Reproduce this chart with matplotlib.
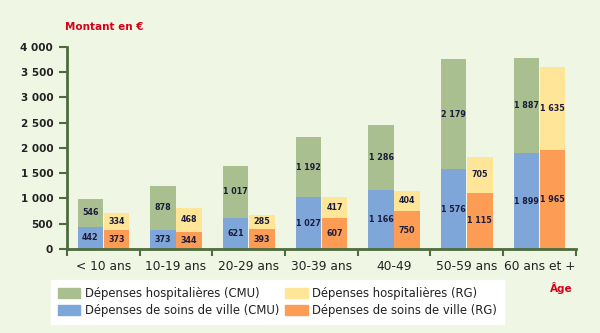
import numpy as np
from matplotlib import pyplot as plt
from matplotlib.patches import Patch

# donnees
ages = ['< 10 ans', '10-19 ans', '20-29 ans', '30-39 ans', '40-49', '50-59 ans', '60 ans et +']
cmu_ville = [442, 373, 621, 1027, 1166, 1576, 1899]
cmu_hosp = [546, 878, 1017, 1192, 1286, 2179, 1887]
rg_ville = [373, 344, 393, 607, 750, 1115, 1965]
rg_hosp = [334, 468, 285, 417, 404, 705, 1635]
yticks = [0, 500, 1000, 1500, 2000, 2500, 3000, 3500, 4000]

c_green = '#a9bf90'
c_blue = '#7ea6d8'
c_yellow = '#fee597'
c_orange = '#fd9d55'
bg = '#eff7e4'
axc = '#4d6b3c'
red = '#d7001a'
txt = '#222222'


def fmt(v):
    return '{:,}'.format(v).replace(',', ' ')


fig = plt.figure(figsize=(6, 3.33), dpi=100)
fig.patch.set_facecolor(bg)
ax = fig.add_axes([0.1117, 0.2523, 0.848, 0.6066])
ax.set_facecolor(bg)

x = np.arange(len(ages))
w = 0.35
off = 0.18

ax.bar(x - off, cmu_ville, w, color=c_blue)
ax.bar(x - off, cmu_hosp, w, bottom=cmu_ville, color=c_green)
ax.bar(x + off, rg_ville, w, color=c_orange)
ax.bar(x + off, rg_hosp, w, bottom=rg_ville, color=c_yellow)

# valeurs dans les barres
lab = dict(ha='center', va='center', fontsize=5.8, fontweight='bold', color='#1c1c3c')
for i in range(len(ages)):
    ax.text(x[i] - off, cmu_ville[i] / 2, fmt(cmu_ville[i]), **lab)
    ax.text(x[i] - off, cmu_ville[i] + cmu_hosp[i] / 2, fmt(cmu_hosp[i]), **lab)
    ax.text(x[i] + off, rg_ville[i] / 2, fmt(rg_ville[i]), **lab)
    ax.text(x[i] + off, rg_ville[i] + rg_hosp[i] / 2, fmt(rg_hosp[i]), **lab)

ax.set_xlim(-0.5, len(ages) - 0.5)
ax.set_ylim(0, 4000)
ax.set_yticks(yticks)
ax.set_yticklabels([fmt(v) for v in yticks], fontsize=7.5, fontweight='bold', color=txt)
ax.set_xticks(x)
ax.set_xticklabels(ages, fontsize=8.8, color=txt)
ax.set_xticks(np.arange(-0.5, len(ages), 1.0), minor=True)
ax.tick_params(axis='x', which='major', length=0, pad=8)
ax.tick_params(axis='x', which='minor', length=5, width=1.5, color=axc)
ax.tick_params(axis='y', length=6, width=1.5, color=axc, pad=4)

for s in ['top', 'right']:
    ax.spines[s].set_visible(False)
for s in ['left', 'bottom']:
    ax.spines[s].set_color(axc)
    ax.spines[s].set_linewidth(2)

fig.text(65 / 600, 1 - 27 / 333, 'Montant en €', color=red, fontsize=7.5,
         fontweight='bold', ha='left', va='center')
fig.text(561 / 600, 1 - 288 / 333, 'Âge', color=red, fontsize=7.5,
         fontweight='bold', ha='center', va='center')

handles = [Patch(color=c_green), Patch(color=c_blue), Patch(color=c_yellow), Patch(color=c_orange)]
labels = ['Dépenses hospitalières (CMU)', 'Dépenses de soins de ville (CMU)',
          'Dépenses hospitalières (RG)', 'Dépenses de soins de ville (RG)']
leg = fig.legend(handles, labels, ncol=2, loc='lower left',
                 bbox_to_anchor=(45 / 600, 3 / 333, 465 / 600, 45 / 333),
                 mode='expand', fontsize=8.4, frameon=True, fancybox=False,
                 edgecolor='white', facecolor='white', framealpha=1,
                 handlelength=1.9, handleheight=0.9, handletextpad=0.4,
                 labelspacing=0.35, borderpad=0.6, columnspacing=1.5)
for t in leg.get_texts():
    t.set_color(txt)

fig.savefig('out.png', dpi=100, facecolor=bg)
